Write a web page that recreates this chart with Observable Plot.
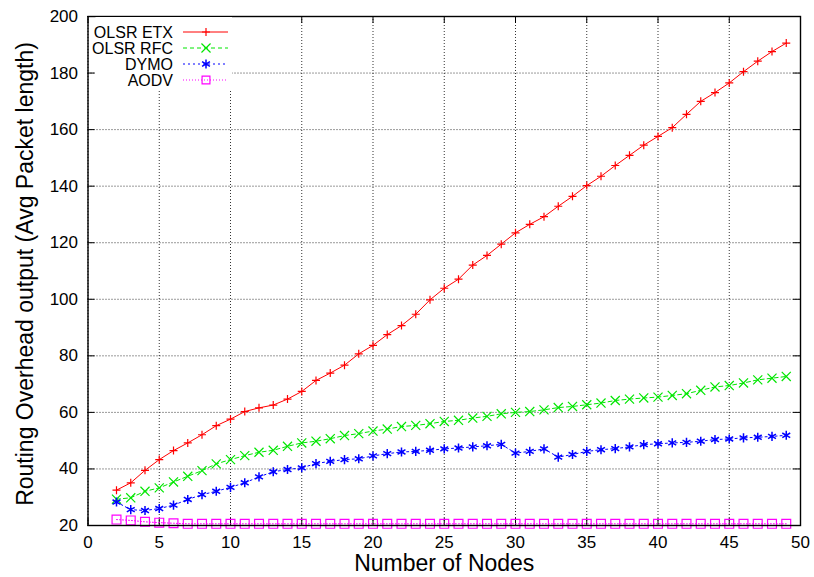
<!DOCTYPE html>
<html>
<head>
<meta charset="utf-8">
<script src="https://cdn.jsdelivr.net/npm/d3@7"></script>
<script src="https://cdn.jsdelivr.net/npm/@observablehq/plot@0.6"></script>
<style>
  html, body { margin: 0; padding: 0; background: #fff; }
  #chart svg { display: block; }
</style>
</head>
<body>
<div id="chart"></div>
<script>
const nodes = d3.range(2, 50);
const olsrEtx = [32.5,35.1,39.5,43.3,46.5,49.2,52.1,55.3,57.6,60.3,61.6,62.6,64.7,67.4,71.3,73.9,76.7,80.7,83.7,87.5,90.7,94.7,99.8,103.9,107.1,112.1,115.5,119.5,123.5,126.5,129.2,132.9,136.4,140.2,143.5,147.3,150.9,154.5,157.6,160.7,165.4,170,173.1,176.5,180.5,184.2,187.6,190.6];
const olsrRfc = [29.3,29.8,32.1,33.3,35.4,37.4,39.4,41.8,43.3,44.7,45.9,46.6,48,49.2,49.8,50.7,51.8,52.5,53.4,54.1,55,55.4,56,56.8,57.2,58,58.6,59.5,60,60.3,60.9,61.7,62.1,62.7,63.3,64.2,64.7,65.1,65.4,66,66.6,67.8,69,69.5,70.4,71.5,72.1,72.7];
const dymo = [28.3,25.6,25.3,26,27.2,29.2,30.9,32.1,33.5,35.1,37.2,39,39.8,40.4,41.9,42.7,43.3,43.6,44.6,45.4,46,46.2,46.6,47.1,47.4,47.8,48.2,48.7,45.6,46.2,47.1,44.2,45.1,46.2,46.8,47.2,47.8,48.6,48.9,49.2,49.4,49.8,50.4,50.6,51,51.2,51.5,51.9];
const aodv = [22.1,21.8,21.3,21.0,20.8,20.6,20.6,20.6,20.6,20.6,20.6,20.6,20.6,20.6,20.6,20.6,20.6,20.6,20.6,20.6,20.6,20.6,20.6,20.6,20.6,20.6,20.6,20.6,20.6,20.6,20.6,20.6,20.6,20.6,20.6,20.6,20.6,20.6,20.6,20.6,20.6,20.6,20.6,20.6,20.6,20.6,20.6,20.6];
const xTicks = [0,5,10,15,20,25,30,35,40,45,50];
const yTicks = [20,40,60,80,100,120,140,160,180,200];
const seriesNames = ["OLSR ETX","OLSR RFC","DYMO","AODV"];
const xLabel = "Number of Nodes";
const yLabel = "Routing Overhead output (Avg Packet length)";

const styles = [
  {color: "#ff0000", dash: null, symbol: "plus", r: 2.7, sw: 1.2},
  {color: "#00e600", dash: "4,3", symbol: "times", r: 4.2, sw: 1.2},
  {color: "#0000ff", dash: "2,3", symbol: "asterisk", r: 4.3, sw: 1.5},
  {color: "#ff00ff", dash: "1,2", symbol: "square", r: 5.0, sw: 1.2}
];
const values = [olsrEtx, olsrRfc, dymo, aodv];
const rows = [];
values.forEach((arr, s) => arr.forEach((v, i) => rows.push({series: seriesNames[s], x: nodes[i], y: v})));

const W = 814, H = 577, mL = 87.5, mR = 14, mT = 16, mB = 52;
const innerW = W - mL - mR, innerH = H - mT - mB, tk = 7;
const font = "'Liberation Sans', Arial, Helvetica, sans-serif";

const marks = [
  Plot.gridX(xTicks, {stroke: "#000", strokeOpacity: 0.8, strokeDasharray: "1,2"}),
  Plot.gridY(yTicks, {stroke: "#000", strokeOpacity: 0.8, strokeDasharray: "1,2"}),
  Plot.ruleX(xTicks, {x: d => d, insetTop: innerH - tk, stroke: "#000"}),
  Plot.ruleX(xTicks, {x: d => d, insetBottom: innerH - tk, stroke: "#000"}),
  Plot.ruleY(yTicks, {y: d => d, insetRight: innerW - tk, stroke: "#000"}),
  Plot.ruleY(yTicks, {y: d => d, insetLeft: innerW - tk, stroke: "#000"}),
  Plot.axisX(xTicks, {tickSize: 0, tickPadding: 10, fontSize: 17, label: null}),
  Plot.axisY(yTicks, {tickSize: 0, tickPadding: 10, fontSize: 17, label: null})
];
seriesNames.forEach((name, s) => {
  const st = styles[s];
  const data = rows.filter(d => d.series === name);
  marks.push(Plot.line(data, {x: "x", y: "y", stroke: st.color, strokeWidth: 1, strokeDasharray: st.dash}));
});
seriesNames.forEach((name, s) => {
  const st = styles[s];
  const data = rows.filter(d => d.series === name);
  marks.push(Plot.dot(data, {x: "x", y: "y", stroke: st.color, symbol: () => st.symbol, r: st.r, strokeWidth: st.sw, fill: "none"}));
});
marks.push(Plot.frame({stroke: "#000", strokeWidth: 1.4}));
marks.push(Plot.text([xLabel], {text: d => d, frameAnchor: "bottom", lineAnchor: "middle", textAnchor: "middle", dy: 38, fontSize: 23, fill: "#000"}));
marks.push(Plot.text([yLabel], {text: d => d, frameAnchor: "left", rotate: -90, textAnchor: "middle", lineAnchor: "middle", dx: -62, dy: 3, fontSize: 23, fill: "#000"}));

const chart = Plot.plot({
  width: W, height: H,
  marginLeft: mL, marginRight: mR, marginTop: mT, marginBottom: mB,
  style: {fontFamily: font, background: "#fff", color: "#000", overflow: "visible"},
  x: {domain: [0, 50]},
  y: {domain: [20, 200]},
  symbol: {type: "identity"},
  marks
});
document.getElementById("chart").appendChild(chart);

// legend (top-left, inside the frame)
const svg = d3.select(chart);
const g = svg.append("g").attr("font-family", font).attr("font-size", 16);
g.append("rect").attr("x", mL + 8).attr("y", mT + 1).attr("width", 232 - mL - 8).attr("height", 72).attr("fill", "#fff");
const symMap = {plus: d3.symbolPlus, times: d3.symbolTimes, asterisk: d3.symbolAsterisk, square: d3.symbolSquare2};
seriesNames.forEach((name, s) => {
  const st = styles[s];
  const yy = 32 + s * 16;
  g.append("text").attr("x", 173).attr("y", yy).attr("dy", "0.35em").attr("text-anchor", "end").attr("fill", "#000").text(name);
  g.append("line").attr("x1", 183).attr("x2", 228).attr("y1", yy).attr("y2", yy)
    .attr("stroke", st.color).attr("stroke-dasharray", st.dash).attr("stroke-width", 1);
  g.append("path").attr("transform", `translate(206,${yy})`)
    .attr("d", d3.symbol(symMap[st.symbol], Math.PI * st.r * st.r)())
    .attr("fill", "none").attr("stroke", st.color).attr("stroke-width", st.sw);
});
</script>
</body>
</html>
